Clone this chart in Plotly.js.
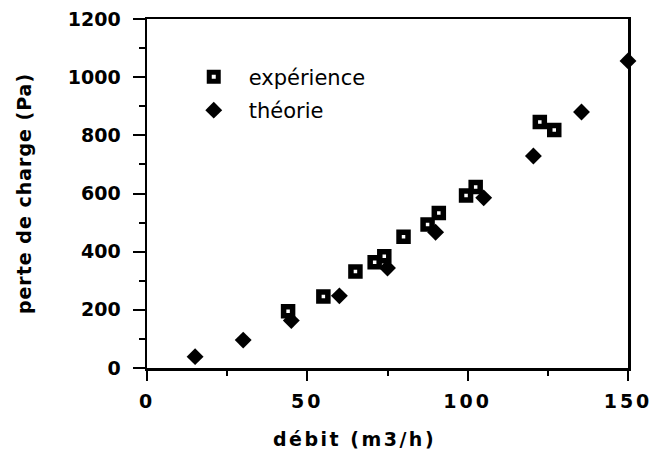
<!DOCTYPE html>
<html><head><meta charset="utf-8">
<script src="https://cdn.plot.ly/plotly-3.0.1.min.js"></script>
<style>
html,body{margin:0;padding:0;background:#fff;}
#chart{width:656px;height:465px;}
.xtick text{letter-spacing:3px;}
.xtitle{letter-spacing:2.5px;transform:translateX(-33px);}
.ytitle{letter-spacing:1px;}
</style></head><body><div id="chart"></div>
<script>
const expDebit = [44, 55, 65, 71, 74, 80, 87.5, 91, 99.5, 102.5, 122.5, 127];
const expPerte = [195, 246, 332, 364, 384, 451, 493, 533, 593, 622, 846, 818];
const theoDebit = [15, 30, 45, 60, 75, 90, 105, 120.5, 135.5, 150];
const theoPerte = [39, 96, 163, 248, 344, 467, 585, 729, 880, 1056];
const xTickVals = [0, 50, 100, 150];
const yTickVals = [0, 200, 400, 600, 800, 1000, 1200];
const seriesNames = ['expérience', 'théorie'];
const xTitle = 'débit (m3/h)';
const yTitle = 'perte de charge (Pa)';

const traces = [
  {
    x: expDebit, y: expPerte, type: 'scatter', mode: 'markers', name: seriesNames[0],
    legendgroup: 'a', cliponaxis: false,
    marker: {symbol: 'square', size: 9, color: '#ffffff', line: {color: '#000000', width: 5.5}}
  },
  {
    x: theoDebit, y: theoPerte, type: 'scatter', mode: 'markers', name: seriesNames[1],
    legendgroup: 'b', cliponaxis: false,
    marker: {symbol: 'diamond', size: 13, color: '#000000', line: {width: 0}}
  }
];

const axisCommon = {
  showgrid: false, zeroline: false, showline: true, linecolor: '#000', linewidth: 2.5,
  mirror: true, ticks: 'outside', tickcolor: '#000', tickwidth: 2, ticklen: 10,
  tickfont: {family: 'DejaVu Sans', size: 19, color: '#000', weight: 'bold'}
};

const layout = {
  width: 656, height: 465,
  margin: {l: 147, r: 28, t: 19, b: 97},
  paper_bgcolor: '#fff', plot_bgcolor: '#fff',
  showlegend: true,
  legend: {
    x: 0.066, y: 0.892, xanchor: 'left', yanchor: 'top',
    bgcolor: 'rgba(0,0,0,0)', borderwidth: 0,
    font: {family: 'DejaVu Sans', size: 21, color: '#000'},
    traceorder: 'grouped', tracegroupgap: 3, itemwidth: 60
  },
  xaxis: Object.assign({}, axisCommon, {
    range: [0, 150], tickmode: 'array', tickvals: xTickVals, ticklabelstandoff: 5,
    minor: {dtick: 25, ticks: 'outside', ticklen: 5, tickwidth: 2, tickcolor: '#000'},
    title: {text: xTitle, standoff: 22, font: {family: 'DejaVu Sans', size: 19, color: '#000', weight: 'bold'}}
  }),
  yaxis: Object.assign({}, axisCommon, {
    range: [0, 1200], tickmode: 'array', tickvals: yTickVals, ticklen: 12, ticklabelstandoff: 8,
    minor: {dtick: 100, ticks: 'outside', ticklen: 6, tickwidth: 2, tickcolor: '#000'},
    title: {text: yTitle, standoff: 31, font: {family: 'DejaVu Sans', size: 19, color: '#000', weight: 'bold'}}
  })
};

Plotly.newPlot('chart', traces, layout, {displayModeBar: false, staticPlot: true});
</script></body></html>
